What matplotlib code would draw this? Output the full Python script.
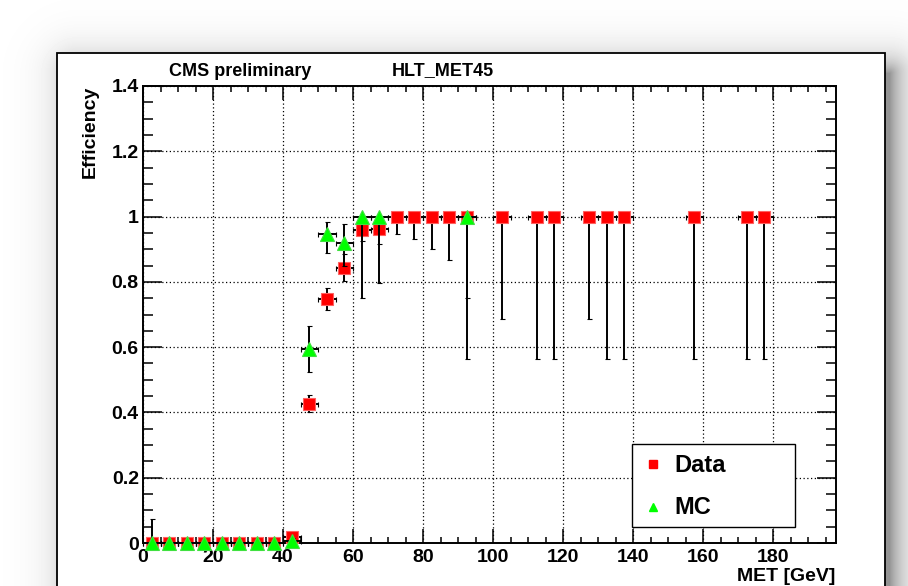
import numpy as np
import matplotlib
matplotlib.use("Agg")
import matplotlib.pyplot as plt
from matplotlib.patches import Rectangle
from matplotlib.lines import Line2D
from matplotlib.ticker import MultipleLocator

plt.rcParams['font.family'] = ['Liberation Sans', 'DejaVu Sans']
plt.rcParams['font.weight'] = 'bold'

# efficiency vs MET, 5 GeV bins
data_x = [2.5, 7.5, 12.5, 17.5, 22.5, 27.5, 32.5, 37.5, 42.5, 47.5, 52.5, 57.5,
          62.5, 67.5, 72.5, 77.5, 82.5, 87.5, 92.5, 102.5, 112.5, 117.5, 127.5,
          132.5, 137.5, 157.5, 172.5, 177.5]
data_y = [0, 0, 0, 0, 0, 0, 0, 0, 0.018, 0.426, 0.747, 0.843,
          0.959, 0.962, 1, 1, 1, 1, 1, 1, 1, 1, 1,
          1, 1, 1, 1, 1]
data_lo = [0, 0, 0, 0, 0, 0, 0, 0, 0.012, 0.026, 0.033, 0.040,
           0.034, 0.047, 0.052, 0.068, 0.099, 0.133, 0.25, 0.315, 0.437, 0.437, 0.315,
           0.437, 0.437, 0.437, 0.437, 0.437]
data_hi = [0, 0, 0, 0, 0, 0, 0, 0, 0.012, 0.027, 0.033, 0.042,
           0.02, 0.02, 0, 0, 0, 0, 0, 0, 0, 0, 0,
           0, 0, 0, 0, 0]

mc_x = [2.5, 7.5, 12.5, 17.5, 22.5, 27.5, 32.5, 37.5, 42.5, 47.5, 52.5, 57.5,
        62.5, 67.5, 92.5]
mc_y = [0, 0, 0, 0, 0, 0, 0, 0, 0.006, 0.593, 0.948, 0.918,
        1.0, 1.0, 1.0]
mc_lo = [0, 0, 0, 0, 0, 0, 0, 0, 0.006, 0.068, 0.061, 0.07,
         0.249, 0.203, 0.437]
mc_hi = [0.075, 0, 0, 0, 0, 0, 0, 0, 0.01, 0.073, 0.036, 0.058,
         0, 0, 0]

W, H = 908, 586
fig = plt.figure(figsize=(W / 100, H / 100), dpi=100)
fig.patch.set_facecolor('white')

# window shadow behind the canvas
cx0, cx1, cy0, cy1 = 57, 885, 53, 700
yy, xx = np.mgrid[0:H, 0:W]
dx = np.maximum(np.maximum((cx0 + 20) - xx, xx - (cx1 + 4)), 0)
dy = np.maximum(np.maximum((cy0 + 20) - yy, yy - cy1), 0)
d = np.hypot(dx, dy)
shade = 1 - 0.42 * np.exp(-d / 16.0)
bg = fig.add_axes([0, 0, 1, 1], zorder=-10)
bg.imshow(shade, cmap='gray', vmin=0, vmax=1, aspect='auto', interpolation='bilinear')
bg.axis('off')

def fx(px):
    return px / W

def fy(py):
    return 1 - py / H

canvas = Rectangle((fx(cx0), fy(cy1)), fx(cx1) - fx(cx0), fy(cy0) - fy(cy1),
                   transform=fig.transFigure, facecolor='white', edgecolor='black',
                   lw=1.3, zorder=-5)
fig.add_artist(canvas)

ax = fig.add_axes([fx(143), fy(543), fx(836) - fx(143), fy(86) - fy(543)])
ax.set_xlim(0, 198)
ax.set_ylim(0, 1.4)

eb1 = ax.errorbar(data_x, data_y, xerr=2.5, yerr=[data_lo, data_hi], fmt='s', color='red',
                  mec='#ff6060', mew=0.8, ms=9, ecolor='black', elinewidth=1.4,
                  capsize=1.8, capthick=1.4, zorder=3)
eb2 = ax.errorbar(mc_x, mc_y, xerr=2.5, yerr=[mc_lo, mc_hi], fmt='^', color='#00ff00',
                  mec='#40e040', mew=0.8, ms=9.5, ecolor='black', elinewidth=1.4,
                  capsize=1.8, capthick=1.4, zorder=4)
for eb in (eb1, eb2):
    for art in eb.get_children():
        art.set_clip_on(False)

ax.xaxis.set_major_locator(MultipleLocator(20))
ax.xaxis.set_minor_locator(MultipleLocator(5))
ax.yaxis.set_major_locator(MultipleLocator(0.2))
ax.yaxis.set_minor_locator(MultipleLocator(0.05))
ax.set_yticks(np.arange(0, 1.41, 0.2))
ax.set_yticklabels(['0', '0.2', '0.4', '0.6', '0.8', '1', '1.2', '1.4'])
ax.set_xticks(np.arange(0, 181, 20))
ax.set_xticklabels([str(v) for v in range(0, 181, 20)])

ax.tick_params(which='both', direction='in', top=True, right=True, width=1.1,
               labelsize=14)
ax.tick_params(axis='x', which='major', length=10, pad=4)
ax.tick_params(axis='x', which='minor', length=4.3)
ax.tick_params(axis='y', which='major', length=14, pad=3)
ax.tick_params(axis='y', which='minor', length=7)
for s in ax.spines.values():
    s.set_linewidth(1.4)

ax.grid(True, which='major', color='black', ls=(0, (1, 2)), lw=0.9)
ax.set_axisbelow(True)

fig.text(fx(90), fy(86), 'Efficiency', rotation=90, ha='center', va='top', fontsize=14)
fig.text(fx(835), fy(581), 'MET [GeV]', ha='right', va='baseline', fontsize=14)
fig.text(fx(240), fy(71), 'CMS preliminary', ha='center', va='center', fontsize=13)
fig.text(fx(443), fy(71), 'HLT_MET45', ha='center', va='center', fontsize=13)

# legend box
box = Rectangle((fx(632), fy(527)), fx(795) - fx(632), fy(444) - fy(527),
                transform=fig.transFigure, facecolor='white', edgecolor='black', lw=1.0)
fig.add_artist(box)
fig.add_artist(Line2D([fx(653)], [fy(464)], marker='s', color='red', ms=5.5,
                      ls='none', transform=fig.transFigure))
fig.add_artist(Line2D([fx(653)], [fy(507)], marker='^', color='#00ff00', ms=6,
                      ls='none', transform=fig.transFigure))
fig.text(fx(674), fy(465), 'Data', ha='left', va='center', fontsize=17)
fig.text(fx(674), fy(507), 'MC', ha='left', va='center', fontsize=17)

fig.savefig('out.png', dpi=100)
